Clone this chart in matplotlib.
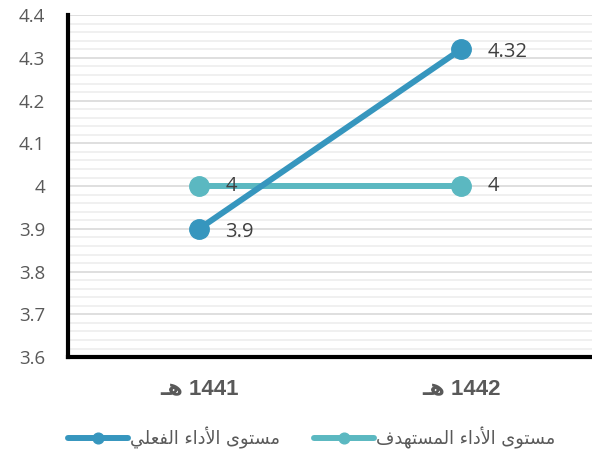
import matplotlib
matplotlib.use("Agg")
import matplotlib.pyplot as plt
from matplotlib.ticker import MultipleLocator

# Data (Arabic strings stored in visual order with presentation forms,
# since matplotlib does no Arabic shaping / bidi)
categories = ["\u0640\uFEEB 1441", "\u0640\uFEEB 1442"]          # 1441 هـ , 1442 هـ
series_names = [
    "\uFEF2\uFEE0\uFECC\uFED4\uFEDF\uFE8D \uFE80\uFE8D\uFEA9\uFEF7\uFE8D \uFEEF\uFEEE\uFE98\uFEB4\uFEE3",          # مستوى الأداء الفعلي
    "\uFED1\uFEAA\uFEEC\uFE98\uFEB4\uFEE4\uFEDF\uFE8D \uFE80\uFE8D\uFEA9\uFEF7\uFE8D \uFEEF\uFEEE\uFE98\uFEB4\uFEE3",  # مستوى الأداء المستهدف
]
actual = [3.9, 4.32]
target = [4.0, 4.0]
actual_labels = ["3.9", "4.32"]
target_labels = ["4", "4"]
ytick_labels = ["3.6", "3.7", "3.8", "3.9", "4", "4.1", "4.2", "4.3", "4.4"]
yticks = [3.6, 3.7, 3.8, 3.9, 4.0, 4.1, 4.2, 4.3, 4.4]

c_actual = "#3696BE"
c_target = "#5BB8C1"
gray = "#595959"
num_font = ["Open Sans", "DejaVu Sans"]

fig = plt.figure(figsize=(5.92, 4.59), dpi=100)
ax = fig.add_axes([0.115, 0.222, 0.885, 0.745])

x = list(range(len(categories)))
ax.plot(x, target, color=c_target, lw=4.3, marker="o", ms=14, label=series_names[1], zorder=3,
        solid_capstyle="round")
ax.plot(x, actual, color=c_actual, lw=4.3, marker="o", ms=14, label=series_names[0], zorder=4,
        solid_capstyle="round")

for xi, v, t in zip(x, actual, actual_labels):
    ax.annotate(t, (xi, v), xytext=(19, -2), textcoords="offset points", va="center", ha="left",
                fontsize=14.5, color="#404040", family=num_font, zorder=6)
for xi, v, t in zip(x, target, target_labels):
    ax.annotate(t, (xi, v), xytext=(19, 0), textcoords="offset points", va="center", ha="left",
                fontsize=14.5, color="#404040", family=num_font, zorder=6)

ax.set_xlim(-0.5, 1.5)
ax.set_ylim(3.6, 4.4)
ax.yaxis.set_minor_locator(MultipleLocator(0.02))
ax.set_yticks(yticks)
ax.set_yticklabels(ytick_labels, fontsize=13.5, color=gray, family=num_font)
ax.set_xticks(x)
ax.set_xticklabels(categories, fontsize=16, fontweight="bold", color=gray,
                   family=["Liberation Sans", "DejaVu Sans"])
ax.tick_params(axis="y", which="both", length=0, pad=16.5)
ax.tick_params(axis="x", length=0, pad=15)

ax.grid(True, which="major", axis="y", color="#D9D9D9", lw=1.2, zorder=0)
ax.grid(True, which="minor", axis="y", color="#EFEFEF", lw=1.3, zorder=0)
ax.set_axisbelow(True)

for s in ["top", "right"]:
    ax.spines[s].set_visible(False)
for s in ["left", "bottom"]:
    ax.spines[s].set_linewidth(3)
    ax.spines[s].set_color("black")

handles, labels = ax.get_legend_handles_labels()
leg = fig.legend([handles[1], handles[0]], [labels[1], labels[0]], loc="center",
                 bbox_to_anchor=(0.526, 0.046), ncol=2, frameon=False,
                 prop={"family": "DejaVu Sans", "size": 12.8}, handlelength=3.4,
                 columnspacing=1.9, handletextpad=0.1, markerscale=0.55, labelcolor=gray)
for lh in leg.get_lines():
    lh.set_linewidth(4.3)

fig.savefig("out.png", dpi=100)
